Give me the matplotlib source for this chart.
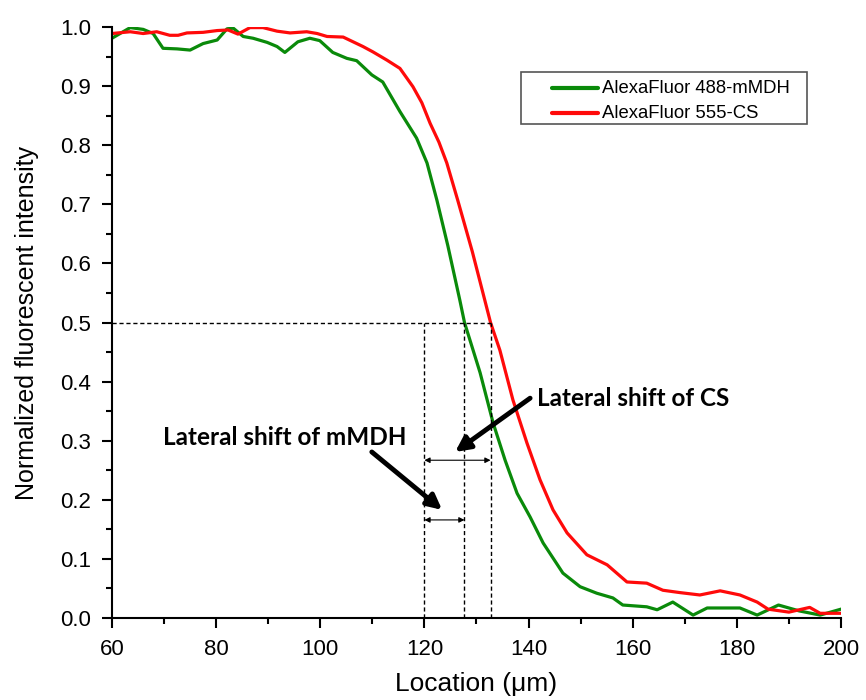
import matplotlib
matplotlib.use("Agg")
import matplotlib.pyplot as plt
from matplotlib.patches import Rectangle
from matplotlib.ticker import MultipleLocator

# ---------------------------------------------------------------------
# Data
# ---------------------------------------------------------------------
green_x = [60, 63.5, 66, 67.9, 69.8, 72.5, 75, 77.5, 80.2, 82.1, 83.3, 85.2,
           87.1, 89.8, 91.7, 93.2, 95.7, 98, 99.9, 102.4, 105.1, 107, 109.9,
           112, 115.3, 118.5, 120.5, 122.4, 124.5, 126.8, 127.7, 130.7, 133.2,
           135.5, 137.8, 140.3, 142.8, 146.6, 149.9, 153.1, 156.2, 158.1,
           162.7, 164.7, 167.7, 171.6, 174.3, 180.6, 183.9, 188, 192, 196, 200]
green_y = [0.981, 0.999, 0.996, 0.989, 0.964, 0.963, 0.961, 0.972, 0.978,
           0.997, 0.998, 0.984, 0.981, 0.974, 0.967, 0.957, 0.975, 0.981,
           0.977, 0.957, 0.947, 0.943, 0.919, 0.907, 0.857, 0.812, 0.770,
           0.707, 0.630, 0.538, 0.500, 0.415, 0.330, 0.267, 0.211, 0.171,
           0.127, 0.076, 0.053, 0.042, 0.034, 0.022, 0.019, 0.014, 0.027,
           0.005, 0.017, 0.017, 0.005, 0.022, 0.012, 0.005, 0.015]

red_x = [60, 63.5, 66, 68.6, 71.1, 72.7, 74.4, 77.5, 80.2, 82.3, 84.2, 86.5,
         89, 91.7, 94.2, 97.4, 99.4, 101.3, 104.4, 106.3, 108.2, 110.1, 112.8,
         115.3, 117.8, 119.5, 121.1, 122.8, 124.3, 126.4, 129.2, 132.7, 134.5,
         137, 139.7, 142.2, 144.7, 147.4, 151.2, 155.1, 158.9, 162.7, 165.8,
         169.1, 172.9, 176.8, 180.6, 183.9, 186, 190, 194, 196, 200]
red_y = [0.989, 0.992, 0.989, 0.992, 0.986, 0.986, 0.990, 0.991, 0.994,
         0.995, 0.988, 0.999, 0.999, 0.993, 0.990, 0.992, 0.989, 0.984,
         0.983, 0.975, 0.967, 0.958, 0.944, 0.930, 0.899, 0.872, 0.837,
         0.805, 0.770, 0.707, 0.620, 0.500, 0.453, 0.369, 0.296, 0.234,
         0.183, 0.144, 0.107, 0.090, 0.061, 0.059, 0.047, 0.043, 0.039,
         0.046, 0.039, 0.027, 0.015, 0.010, 0.018, 0.008, 0.008]

labels = ["AlexaFluor 488-mMDH", "AlexaFluor 555-CS"]
colors = ["#0a8a0a", "#ff0a0a"]

# half-intensity positions
x_ref = 120.0
x_green_half = 127.7
x_red_half = 132.7
half = 0.5

plt.rcParams["font.family"] = ["Liberation Sans", "DejaVu Sans"]

fig = plt.figure(figsize=(8.66, 7.0), dpi=100)
ax = fig.add_axes([0.1293, 0.1171, 0.8418, 0.8443])

ax.plot(green_x, green_y, color=colors[0], lw=2.3)
ax.plot(red_x, red_y, color=colors[1], lw=2.3)

# dashed guide lines
dash = dict(color="black", lw=1.0, linestyle=(0, (3, 2)))
ax.plot([60, x_red_half], [half, half], **dash)
for xv in (x_ref, x_green_half, x_red_half):
    ax.plot([xv, xv], [0, half], **dash)

# small double-headed arrows
thin = dict(arrowstyle="<|-|>", color="black", lw=0.8, mutation_scale=8,
            shrinkA=0, shrinkB=0)
ax.annotate("", xy=(x_red_half, 0.267), xytext=(x_ref, 0.267), arrowprops=thin)
ax.annotate("", xy=(x_green_half, 0.166), xytext=(x_ref, 0.166), arrowprops=thin)

# thick pointer arrows
thick = dict(arrowstyle="-|>", color="black", lw=3.5, mutation_scale=22,
             shrinkA=0, shrinkB=0)
ax.annotate("", xy=(125.9, 0.281), xytext=(140.3, 0.372), arrowprops=thick)
ax.annotate("", xy=(123.4, 0.183), xytext=(109.9, 0.281), arrowprops=thick)

ax.text(141.6, 0.371, "Lateral shift of CS", fontsize=17.5, fontweight="bold",
        family=["Lato", "DejaVu Sans"], va="center", ha="left")
ax.text(69.8, 0.305, "Lateral shift of mMDH", fontsize=17.5, fontweight="bold",
        family=["Lato", "DejaVu Sans"], va="center", ha="left")

# legend box drawn in axes coordinates
ax.add_patch(Rectangle((0.5606, 0.8359), 0.3928, 0.088, transform=ax.transAxes,
                       facecolor="white", edgecolor="#555555", lw=1.2,
                       zorder=5))
for row, (lab, col) in enumerate(zip(labels, colors)):
    yy = 0.8968 - row * 0.0423
    ax.plot([0.6036, 0.6667], [yy, yy], color=col, lw=3, transform=ax.transAxes,
            zorder=6, solid_capstyle="round")
    ax.text(0.6722, yy, lab, fontsize=13.3, va="center", ha="left",
            transform=ax.transAxes, zorder=6)

ax.set_xlim(60, 200)
ax.set_ylim(0, 1.0)
ax.xaxis.set_major_locator(MultipleLocator(20))
ax.xaxis.set_minor_locator(MultipleLocator(10))
ax.yaxis.set_major_locator(MultipleLocator(0.1))
ax.yaxis.set_minor_locator(MultipleLocator(0.05))
ax.yaxis.set_major_formatter(plt.FormatStrFormatter("%.1f"))

for side in ("top", "right"):
    ax.spines[side].set_visible(False)
for side in ("left", "bottom"):
    ax.spines[side].set_linewidth(1.5)
ax.tick_params(which="major", direction="out", length=7, width=1.5,
               labelsize=16, pad=8)
ax.tick_params(which="minor", direction="out", length=4, width=1.5)

ax.set_xlabel("Location (\u03bcm)", fontsize=19, labelpad=9)
ax.set_ylabel("Normalized fluorescent intensity", fontsize=18, labelpad=15)

fig.savefig("out.png", dpi=100)
plt.close(fig)
